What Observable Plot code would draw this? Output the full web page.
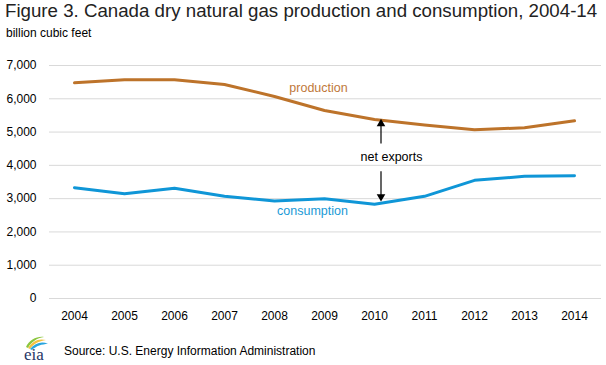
<!DOCTYPE html>
<html>
<head>
<meta charset="utf-8">
<script src="https://cdn.jsdelivr.net/npm/d3@7"></script>
<script src="https://cdn.jsdelivr.net/npm/@observablehq/plot@0.6"></script>
<style>
  body { margin: 0; background: #fff; }
  #wrap { position: relative; width: 606px; height: 365px; font-family: "Liberation Sans", Arial, sans-serif; color: #000; overflow: hidden; }
  #title { position: absolute; left: 5px; top: 0px; font-size: 18.7px; white-space: nowrap; color: #222; }
  #subtitle { position: absolute; left: 6px; top: 26px; font-size: 12px; white-space: nowrap; }
  #chart { position: absolute; left: 0; top: 45px; }
  #logo { position: absolute; left: 18px; top: 334px; }
  #source { position: absolute; left: 64px; top: 344px; font-size: 12px; white-space: nowrap; }
</style>
</head>
<body>
<div id="wrap">
  <div id="title">Figure 3. Canada dry natural gas production and consumption, 2004-14</div>
  <div id="subtitle">billion cubic feet</div>
  <div id="chart"></div>
  <svg id="logo" width="34" height="30" viewBox="0 0 34 30">
    <path d="M8,13 C11,6 19,2 26,3 C19,4 13,8 10,14 Z" fill="#8cc63f"/>
    <path d="M10,14 C14,7 21,4 28,6 C21,7 15,10 12,15 Z" fill="#f6c342"/>
    <path d="M12,15 C17,9 24,7 30,10 C24,10 18,12 14,16 Z" fill="#2aa6df"/>
    <text x="6" y="26" font-family="'Liberation Serif', 'DejaVu Serif', serif" font-size="17" fill="#1f3566">eia</text>
  </svg>
  <div id="source">Source: U.S. Energy Information Administration</div>
</div>
<script>
const years = [2004, 2005, 2006, 2007, 2008, 2009, 2010, 2011, 2012, 2013, 2014];
const production = [6480, 6570, 6570, 6430, 6070, 5650, 5380, 5210, 5070, 5130, 5340];
const consumption = [3330, 3150, 3310, 3070, 2930, 3000, 2830, 3070, 3550, 3670, 3690];
const yTicks = [0, 1000, 2000, 3000, 4000, 5000, 6000, 7000];

// annotation text and positions (data units)
const seriesLabels = [
  {text: "production", x: 2008.88, y: 6320, color: "#c0783a"},
  {text: "consumption", x: 2008.76, y: 2620, color: "#1a9ad6"},
  {text: "net exports", x: 2010.34, y: 4250, color: "#000"}
];
const arrowX = 2010.13;
const arrowShafts = [
  {y1: 4660, y2: 5240},
  {y1: 3820, y2: 3070}
];
const arrowHeads = [
  {y: 5250, rotate: 0},
  {y: 3060, rotate: 180}
];

const prodData = years.map((y, i) => ({year: y, value: production[i]}));
const consData = years.map((y, i) => ({year: y, value: consumption[i]}));

const chart = Plot.plot({
  width: 606,
  height: 280,
  marginLeft: 49,
  marginRight: 5,
  marginTop: 20,
  marginBottom: 27,
  style: {fontFamily: '"Liberation Sans", Arial, sans-serif', fontSize: "12px", color: "#000", background: "#fff"},
  x: {type: "linear", domain: [2004, 2014], insetLeft: 25, insetRight: 27},
  y: {domain: [0, 7000]},
  marks: [
    Plot.ruleY(yTicks, {stroke: "#d9d9d9", strokeWidth: 1}),
    Plot.axisY({ticks: yTicks, tickSize: 0, tickPadding: 13, tickFormat: d3.format(","), label: null, fontSize: 12}),
    Plot.axisX({ticks: years, tickSize: 0, tickPadding: 13, tickFormat: d => String(d), label: null, fontSize: 12}),
    Plot.line(prodData, {x: "year", y: "value", stroke: "#bd732a", strokeWidth: 3}),
    Plot.line(consData, {x: "year", y: "value", stroke: "#0f96d7", strokeWidth: 3}),
    Plot.link(arrowShafts, {x1: () => arrowX, x2: () => arrowX, y1: "y1", y2: "y2", stroke: "#000", strokeWidth: 1.2}),
    Plot.dot(arrowHeads, {x: () => arrowX, y: "y", symbol: "triangle", r: 3.2, fill: "#000", stroke: "none", rotate: "rotate"}),
    Plot.text(seriesLabels, {x: "x", y: "y", text: "text", fill: "color", fontSize: 12.5})
  ]
});
document.getElementById("chart").appendChild(chart);
</script>
</body>
</html>
